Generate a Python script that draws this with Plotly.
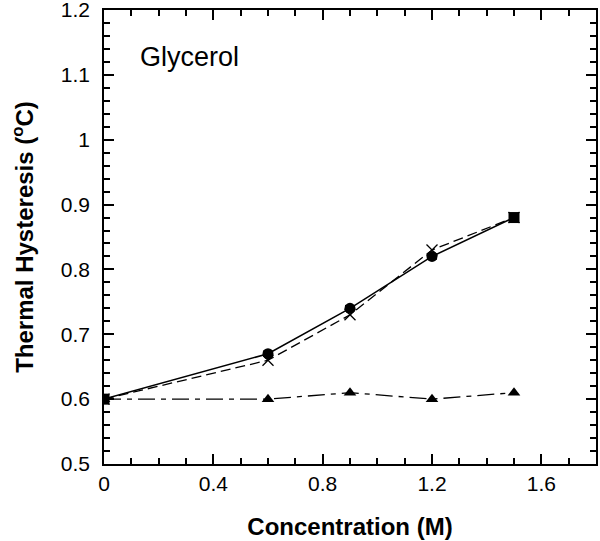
import plotly.graph_objects as go

conc = [0, 0.6, 0.9, 1.2, 1.5]
th_circle = [0.60, 0.67, 0.74, 0.82, 0.88]
th_circle_err = [0.004, 0.004, 0.004, 0.004, 0.004]
th_cross = [0.60, 0.66, 0.73, 0.83, 0.88]
th_tri = [0.60, 0.60, 0.61, 0.60, 0.61]
circle_symbols = ["square", "circle", "circle", "circle", "square"]

font_family = "Liberation Sans, Arial, Helvetica, sans-serif"

fig = go.Figure()
fig.add_trace(go.Scatter(
    x=conc, y=th_tri, mode="lines+markers",
    line=dict(color="black", width=1.3, dash="17px,6px,5px,6px"),
    marker=dict(symbol="triangle-up", size=11, color="black"),
    showlegend=False))
fig.add_trace(go.Scatter(
    x=conc, y=th_cross, mode="lines+markers",
    line=dict(color="black", width=1.3, dash="10px,5px"),
    marker=dict(symbol="x-thin", size=11, color="black", line=dict(color="black", width=1.3)),
    showlegend=False))
fig.add_trace(go.Scatter(
    x=conc, y=th_circle, mode="lines+markers",
    line=dict(color="black", width=1.5),
    marker=dict(symbol=circle_symbols, size=11, color="black"),
    error_y=dict(type="data", array=th_circle_err, color="black", thickness=1.3, width=5),
    showlegend=False))

fig.add_annotation(x=0.124, y=1.1275, xref="x", yref="y", text="Glycerol",
                   showarrow=False, xanchor="left", yanchor="middle",
                   font=dict(family=font_family, size=27, color="black"))

axis_common = dict(
    showline=True, linecolor="black", linewidth=1.5, mirror="ticks",
    ticks="inside", ticklen=10, tickwidth=1.5, tickcolor="black",
    showgrid=False, zeroline=False, automargin=False,
    ticklabeloverflow="allow",
    tickfont=dict(family=font_family, size=21, color="black"),
)

fig.update_xaxes(
    range=[0, 1.8], tick0=0, dtick=0.4, ticklabelstandoff=0,
    minor=dict(dtick=0.1, ticks="inside", ticklen=6, tickwidth=1.5, tickcolor="black", showgrid=False),
    title=dict(text="<b>Concentration (M)</b>", font=dict(family=font_family, size=24, color="black"), standoff=24),
    **axis_common)
fig.update_yaxes(
    range=[0.5, 1.2], tick0=0.5, dtick=0.1, ticklabelstandoff=8,
    tickvals=[0.5, 0.6, 0.7, 0.8, 0.9, 1.0, 1.1, 1.2],
    ticktext=["0.5", "0.6", "0.7", "0.8", "0.9", "1", "1.1", "1.2"],
    minor=dict(dtick=0.02, ticks="inside", ticklen=6, tickwidth=1.5, tickcolor="black", showgrid=False),
    title=dict(text="<b>Thermal Hysteresis (<sup>o</sup>C)</b>", font=dict(family=font_family, size=24, color="black"), standoff=20),
    **axis_common)

fig.update_layout(
    width=600, height=541,
    margin=dict(l=104, r=4, t=10, b=77),
    plot_bgcolor="white", paper_bgcolor="white",
)

fig.write_html("out.html", config={"displayModeBar": False},
               post_script="document.body.style.margin='0';document.body.style.overflow='hidden';")
